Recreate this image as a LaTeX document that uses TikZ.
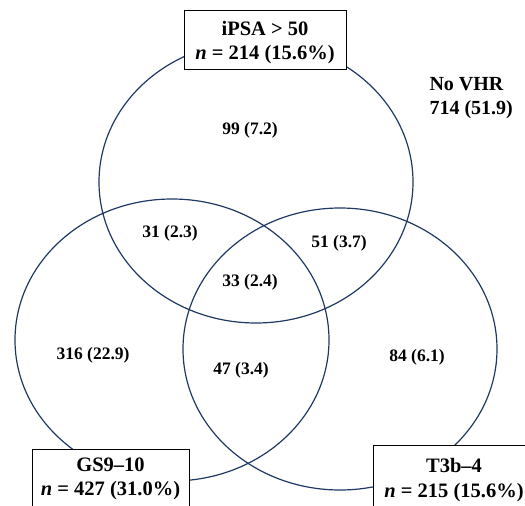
\documentclass[tikz,border=0pt]{standalone}
\usepackage{fontspec}
\setmainfont{Liberation Serif}
\definecolor{vennblue}{RGB}{31,56,100}
\begin{document}
\begin{tikzpicture}[x=1pt,y=-1pt,
  venn/.style={draw=vennblue,line width=1.2pt},
  boxline/.style={draw=black,line width=0.9pt},
  num/.style={font=\fontsize{17.5}{21}\selectfont\bfseries},
  lab/.style={font=\fontsize{20.5}{24.5}\selectfont\bfseries,align=center}]
\useasboundingbox (0,0) rectangle (525,506);
\clip (0,0) rectangle (525,506);
% circles
\draw[venn] (256,182) ellipse [x radius=157, y radius=141];
\draw[venn] (172,340) ellipse [x radius=157, y radius=141];
\draw[venn] (340,349) ellipse [x radius=157, y radius=141];
% boxes
\fill[white] (184,10) rectangle (346,69);
\draw[boxline] (184,10) rectangle (346,69);
\fill[white] (32,449) rectangle (189,510);
\draw[boxline] (32,510) -- (32,449) -- (189,449) -- (189,510);
\fill[white] (373,445) rectangle (530,510);
\draw[boxline] (373,510) -- (373,445) -- (530,445);
% box labels
\node[lab] (ipsa) at (265,42.5) {iPSA > 50\\\textit{n} = 214 (15.6\%)};
\node[lab] (gs) at (110.5,479) {GS9--10\\\textit{n} = 427 (31.0\%)};
\node[lab] (t3b) at (454,480) {T3b--4\\\textit{n} = 215 (15.6\%)};
% region numbers
\node[num] (r1) at (250,130) {99 (7.2)};
\node[num] (r2) at (170,233) {31 (2.3)};
\node[num] (r3) at (339,243) {51 (3.7)};
\node[num] (r4) at (250,282) {33 (2.4)};
\node[num] (r5) at (93,355) {316 (22.9)};
\node[num] (r6) at (241,370) {47 (3.4)};
\node[num] (r7) at (417,357) {84 (6.1)};
\node[font=\fontsize{20}{24}\selectfont\bfseries,align=left,anchor=west] (novhr) at (426,98) {No VHR\\714 (51.9)};
\end{tikzpicture}
\end{document}
